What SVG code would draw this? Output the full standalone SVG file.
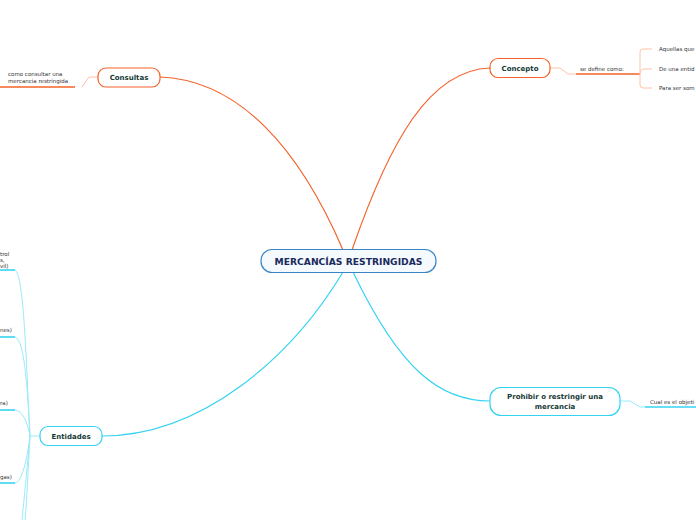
<svg xmlns="http://www.w3.org/2000/svg" width="696" height="520" viewBox="0 0 696 520">
<style>
.node{fill:#ffffff;stroke-width:1.2}
.or{stroke:#f4622a}
.cy{stroke:#35d3f2}
.t{font-family:"DejaVu Sans","Liberation Sans",sans-serif;font-weight:bold;fill:#163a36;font-size:7px;text-anchor:middle}
.s{font-family:"DejaVu Sans","Liberation Sans",sans-serif;fill:#333;font-size:5.5px}
.mo{fill:none;stroke:#f4622a;stroke-width:1.2}
.mc{fill:none;stroke:#35d3f2;stroke-width:1.2}
.lo{fill:none;stroke:#ffc3a8;stroke-width:1}
.lc{fill:none;stroke:#9aeafa;stroke-width:1}
.uo{stroke:#f4622a;stroke-width:1.6}
.uc{stroke:#35d3f2;stroke-width:1.6}
</style>
<rect width="696" height="520" fill="#ffffff"/>
<g id="connectors">
<path class="mo" d="M343,250 C300,150 240,80 160,77"/>
<path class="mo" d="M352,250 C390,140 430,70 490,68"/>
<path class="mc" d="M343,272 C290,360 200,436 102,436"/>
<path class="mc" d="M353,272 C400,370 440,401 490,401"/>
<path class="lo" d="M98,77 L89,77 L82,87"/>
<line class="uo" x1="0" y1="87" x2="75" y2="87"/>
<path class="lo" d="M550,68 L560,68 L568,74 L576,74"/>
<line class="uo" x1="576" y1="74" x2="640" y2="74"/>
<path class="lo" d="M640,74 L640,52 Q640,49 643,49 L652,49"/>
<path class="lo" d="M640,74 Q640,69 645,69 L652,69"/>
<path class="lo" d="M640,74 L640,85 Q640,88 643,88 L652,88"/>
<path class="lc" d="M620,401 L630,401 L640,407 L645,407"/>
<line class="uc" x1="645" y1="407" x2="696" y2="407"/>
<path class="lc" d="M40,436 L30,436"/>
<path class="lc" d="M30,436 C26,360 24,275 15,270"/>
<path class="lc" d="M30,436 C27,380 24,340 15,337"/>
<path class="lc" d="M30,436 C27,420 22,411 15,410"/>
<path class="lc" d="M30,436 C27,460 22,482 15,483"/>
<path class="lc" d="M30,436 C28,470 27,500 25,520"/>
<path class="lc" d="M30,436 C27,470 24,500 22,520"/>
<line class="uc" x1="0" y1="270" x2="15" y2="270"/>
<line class="uc" x1="0" y1="337" x2="15" y2="337"/>
<line class="uc" x1="0" y1="410" x2="15" y2="410"/>
<line class="uc" x1="0" y1="483" x2="15" y2="483"/>
</g>
<g id="center">
<rect x="261" y="249.5" width="175" height="23" rx="11" fill="#f5faff" stroke="#3a85c6" stroke-width="1.2"/>
<text x="348.5" y="264.5" class="t" style="fill:#1b2a5c;font-size:9.2px">MERCANCÍAS RESTRINGIDAS</text>
</g>
<g id="consultas">
<rect class="node or" x="98" y="68" width="62" height="19" rx="8"/>
<text x="129" y="80" class="t">Consultas</text>
</g>
<g id="consultas-sub">
<text x="8" y="76" class="s">como consultar una</text>
<text x="8" y="83" class="s">mercancia restringida</text>
</g>
<g id="concepto">
<rect class="node or" x="490" y="58.5" width="60" height="19" rx="8"/>
<text x="520" y="71" class="t">Concepto</text>
</g>
<g id="concepto-sub">
<text x="580" y="71" class="s">se define como:</text>
<text x="659" y="51" class="s">Aquellas que</text>
<text x="659" y="71" class="s">De una entid</text>
<text x="659" y="90" class="s">Para ser som</text>
</g>
<g id="prohibir">
<rect class="node cy" x="490" y="387.5" width="130" height="28" rx="11"/>
<text x="555" y="399" class="t">Prohibir o restringir una</text>
<text x="555" y="409" class="t">mercancia</text>
</g>
<g id="prohibir-sub">
<text x="650" y="404" class="s">Cual es el objeti</text>
</g>
<g id="entidades">
<rect class="node cy" x="40" y="426.5" width="62" height="19" rx="8"/>
<text x="71" y="439" class="t">Entidades</text>
</g>
<g id="entidades-sub">
<text x="0" y="256" class="s">trol</text>
<text x="0" y="262" class="s">s,</text>
<text x="0" y="268" class="s">vil)</text>
<text x="0" y="332" class="s">nes)</text>
<text x="0" y="405" class="s">ra)</text>
<text x="0" y="479" class="s">gas)</text>
</g>
</svg>
